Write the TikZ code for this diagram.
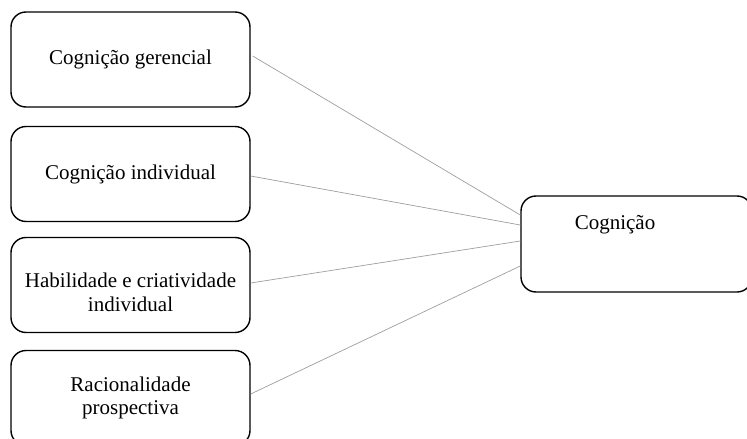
\documentclass[tikz,border=0pt]{standalone}
\usepackage{fontspec}
\setmainfont{Liberation Serif}
\begin{document}
\begin{tikzpicture}[x=1pt,y=-1pt,
  factor/.style={draw=black,line width=1.4pt,rounded corners=15pt,
    minimum width=239pt,minimum height=95pt,inner sep=0pt,
    align=center,font=\fontsize{21}{23}\selectfont},
  link/.style={draw=black!38,line width=0.7pt},
  caption/.style={font=\fontsize{21}{24}\selectfont,inner sep=0pt,align=center}]
  \useasboundingbox (0,0) rectangle (747,439);

  % left column of factors
  \node[factor] (f1) at (130.5,59.5) {Cognição gerencial};
  \node[factor] (f2) at (130.5,174) {Cognição individual};
  \node[factor] (f3) at (130.5,285) {};
  \node[caption] (f3txt) at (130.5,292) {Habilidade e criatividade\\individual};
  \node[factor] (f4) at (130.5,398) {Racionalidade\\prospectiva};

  % target box, text sits in its upper part
  \node[factor,minimum width=231pt,minimum height=96pt] (cog) at (636.5,244) {};
  \node[caption] (cogtxt) at (615,225) {Cognição};

  % connectors
  \draw[link] ([xshift=2pt,yshift=3.5pt]f1.east) -- ([yshift=29pt]cog.west);
  \draw[link] ([yshift=-2pt]f2.east) -- ([yshift=19pt]cog.west);
  \draw[link] ([yshift=2pt]f3.east) -- ([yshift=3pt]cog.west);
  \draw[link] ([yshift=4pt]f4.east) -- ([yshift=-22pt]cog.west);
\end{tikzpicture}
\end{document}
